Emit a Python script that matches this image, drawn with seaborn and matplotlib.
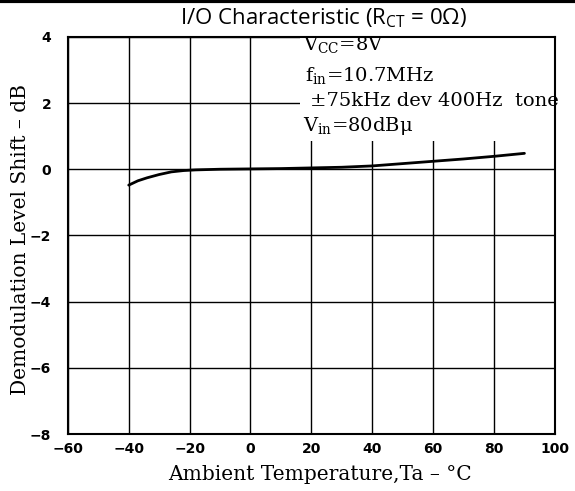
import numpy as np
import pandas as pd
import matplotlib
matplotlib.use("Agg")
import matplotlib.pyplot as plt
from matplotlib.lines import Line2D
from matplotlib.patches import Rectangle
import seaborn as sns

# curve
temp = [-40, -37, -34, -30, -26, -22, -18, -10, 0, 10, 20, 30, 40, 50, 60, 70, 80, 90]
shift = [-0.48, -0.35, -0.26, -0.16, -0.08, -0.04, -0.02, 0.0, 0.01, 0.02, 0.04, 0.06, 0.1, 0.17, 0.24, 0.31, 0.39, 0.48]

x_ticks = [-60, -40, -20, 0, 20, 40, 60, 80, 100]
y_ticks = [-8, -6, -4, -2, 0, 2, 4]

conditions = [r"V$_\mathregular{CC}$=8V", r"f$_\mathregular{in}$=10.7MHz",
              "±75kHz dev 400Hz  tone", r"V$_\mathregular{in}$=80dBμ"]

sns.set_style("white")
plt.rcParams["font.family"] = ["DejaVu Sans"]
plt.rcParams["text.color"] = "black"
plt.rcParams["xtick.color"] = "black"
plt.rcParams["ytick.color"] = "black"
plt.rcParams["axes.labelcolor"] = "black"

df = pd.DataFrame({"Ta": temp, "Shift": shift})

fig = plt.figure(figsize=(5.75, 4.91), dpi=100)
ax = fig.add_axes([0.118, 0.116, 0.847, 0.809])

sns.lineplot(data=df, x="Ta", y="Shift", ax=ax, color="black", linewidth=2.0, zorder=5)

ax.set_xlim(-60, 100)
ax.set_ylim(-8, 4)
ax.set_xticks(x_ticks)
ax.set_yticks(y_ticks)
ax.grid(True, color="black", linewidth=1.0)
ax.set_axisbelow(True)
for sp in ax.spines.values():
    sp.set_color("black")
    sp.set_linewidth(1.5)
ax.tick_params(length=0, labelsize=10)
ax.tick_params(axis="y", pad=12)
ax.tick_params(axis="x", pad=6)
for lab in ax.get_xticklabels() + ax.get_yticklabels():
    lab.set_fontweight("bold")

ax.set_xlabel("Ambient Temperature,Ta – °C", family="DejaVu Serif", fontsize=14.5)
ax.set_ylabel("Demodulation Level Shift – dB", family="DejaVu Serif", fontsize=14.5)
ax.xaxis.set_label_coords(0.517, -0.078)
ax.yaxis.set_label_coords(-0.077, 0.489)

# white box behind the test conditions
ax.add_patch(Rectangle((16.2, 0.85), 83.8, 3.15, facecolor="white", edgecolor="none", zorder=2))
ys = [3.73, 2.82, 2.06, 1.30]
xs = [17.2, 18.0, 19.5, 17.2]
for t, xx, yy in zip(conditions, xs, ys):
    ax.text(xx, yy, t, family="DejaVu Serif", fontsize=14, va="center", ha="left", zorder=6)

fig.text(0.562, 0.963, r"I/O Characteristic (R$_\mathregular{CT}$ = 0Ω)",
         family="Open Sans", fontsize=16, ha="center", va="center")

# scan border at top edge
fig.add_artist(Line2D([0, 1], [0.997, 0.997], color="black", linewidth=3, transform=fig.transFigure))

fig.savefig("out.png", dpi=100)
